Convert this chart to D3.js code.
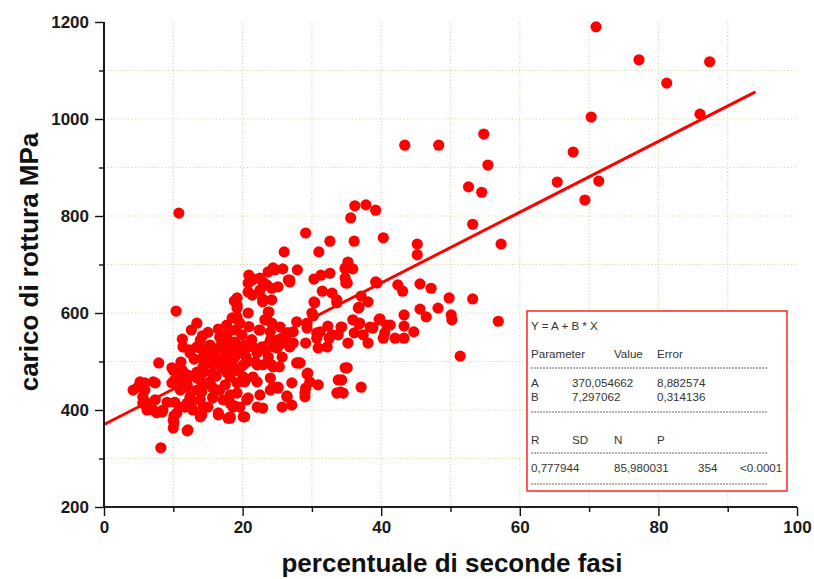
<!DOCTYPE html>
<html>
<head>
<meta charset="utf-8">
<script src="https://cdn.jsdelivr.net/npm/d3@7"></script>
<style>
  html, body { margin: 0; padding: 0; background: #fff; }
  svg { display: block; }
  text { font-family: "Liberation Sans", Arial, sans-serif; }
</style>
</head>
<body>
<svg id="chart" width="814" height="579"></svg>
<script>
// Campioni: [percentuale di seconde fasi, carico di rottura MPa]
const campioni = [
  [71.0,1190],[77.2,1122],[87.4,1118],[81.2,1074],[86.0,1010],[70.3,1004],[54.8,969],[43.4,946],[48.3,946],
  [67.7,932],[55.4,905],[52.6,860],[54.5,849],[65.4,870],[71.4,872],[69.4,833],[53.2,783],[57.3,742],
  [45.2,742],[45.2,720],[10.8,806],
  [45.6,660],[47.2,651],[49.8,631],[53.2,629],[48.2,610],[45.6,608],[46.5,592],[50.1,596],[50.2,586],
  [56.9,583],[51.4,511],[43.3,596],[43.3,573],[44.7,561],[42.4,658],[43.1,645],[39.4,662],[39.7,586],
  [41.3,575],[40.8,575],[40.5,559],[40.3,548],[42.0,548],[43.3,548],[38.1,538],[38.8,569],[37.4,555],
  [36.1,559],[36.9,579],[35.9,586],[36.7,610],[38.1,623],[37.1,635],[35.2,538],[34.3,571],[35.1,662],
  [39.2,664],[35.1,487],[37.1,447],[34.3,462],[34.5,435],[38.4,571],
  [36.2,821],[37.8,823],[39.2,812],[35.6,796],[29.1,765],[32.6,748],[36.1,748],[40.3,755],[31.0,726],
  [35.2,705],[34.8,691],[35.9,691],[34.8,672],[34.9,662],[27.9,689],[26.8,668],[30.3,670],[31.3,678],
  [32.6,682],[31.5,645],[32.9,641],[33.6,627],[30.3,623],[36.8,612],[39.8,588],[36.8,577],[34.8,693],
  [30.2,594],[29.3,579],[34.2,571],[30.7,559],[32.9,555],[26.4,559],[27.3,538],[28.3,497],[29.4,476],
  [34.1,437],[29.0,435],
  [26.0,726],[20.9,678],[24.7,689],[25.8,691],[23.7,685],[26.6,668],[22.5,672],[21.4,668],[23.5,658],
  [25.1,654],[22.5,647],[20.8,643],[19.2,631],[18.8,625],[22.9,629],[24.2,627],[10.4,604],
  [7.9,497],[8.2,322],[12.0,357],[10.1,373],[10.1,388],[13.4,579],[12.6,565],[11.3,546],[16.5,567],
  [17.7,575],[18.5,590],[21.5,670],[24.4,693],[26.8,664],[22.9,664],[24.2,651],[22.9,623],[23.7,602],
  [23.5,586],[22.4,565],[19.6,579],[19.9,555],[19.2,616],[21.4,637],[20.8,662],[26.8,530],[25.0,528],
  [27.3,561],[26.1,548],[24.0,544],[27.8,497],[22.1,493],[24.0,466],[27.1,456],[25.1,447],[26.4,429],
  [20.8,425],[22.9,404],[20.1,386],[18.2,386],[16.5,394],[16.3,441],[14.1,447],[13.9,386],[18.2,414],
  [4.9,447],[4.2,441],[5.9,456],[7.4,456],[5.6,414],[6.2,400],[7.6,394],[8.5,400],[11.0,406],
  [12.0,414],[12.4,427],[10.2,462],[11.3,478],[9.8,456],[11.1,499],[9.8,487],[12.4,524],[13.4,530],
  [14.3,509],[15.3,497],[16.0,524],[17.0,503],[18.6,503],[17.7,478],[14.3,478],[13.4,466],[15.3,458],
  [12.0,447],[20.6,499],[22.1,518],[19.9,524],[18.5,524],[18.9,540],[17.3,534],[15.3,534],[13.9,544],
  [21.5,530],[22.8,530],[18.2,431],[19.6,406],[15.7,425],[14.3,406],[12.8,400],[10.5,394],[9.1,416],
  [21.5,468],[20.1,468],[19.2,456],[22.1,406],[25.7,406],[27.1,410],[22.5,431],[24.0,441],[24.4,489],
  [25.7,509],[23.7,509],[24.0,561],[25.4,571],
  [10.0,379],[10.0,363],[12.1,359],[5.2,458],[5.9,441],[7.1,458],[5.6,427],[6.2,414],[7.1,400],
  [8.4,396],[7.4,421],[14.3,489],[10.7,462],[11.0,441],[12.0,468],[10.0,482],[10.2,416],[11.7,406],
  [12.7,416],[13.9,421],[14.1,390],[16.5,390],[17.9,383],[15.0,406],[15.7,427],[17.2,421],[16.7,441],
  [18.6,406],[13.4,441],[13.9,462],[15.6,447],[17.5,452],[18.2,468],[15.6,476],[13.4,478],[12.1,472],
  [11.4,530],[12.4,518],[13.9,528],[15.0,513],[16.7,530],[18.2,538],[16.7,550],[19.2,592],[16.7,493],
  [18.2,497],[14.3,503],[11.3,482],[12.0,452],[14.1,437],
  [20.8,600],[19.2,610],[23.8,602],[23.2,586],[24.2,579],[22.5,565],[30.4,621],[30.0,600],[33.6,621],
  [32.3,573],[31.2,561],[30.7,548],[32.5,548],[33.8,555],[29.1,538],[30.9,528],[32.2,530],[27.8,582],
  [29.3,569],[26.6,559],[27.1,538],[25.8,538],[25.1,544],[24.4,530],[23.2,524],[20.3,534],[19.2,524],
  [21.8,499],[22.9,493],[24.2,493],[25.3,489],[28.1,497],[20.1,493],[18.6,503],[22.1,458],[24.4,447],
  [25.1,445],[29.3,474],[29.7,458],[30.9,452],[29.1,445],[29.0,427],[26.4,427],[33.8,462],[33.6,435],
  [34.8,487],[20.3,458],[19.2,435],[20.6,421],[18.9,408],[20.3,386],[18.2,383],
  [16.0,510],[17.5,515],[19.0,512],[14.8,520],[13.0,505],[17.0,488],[19.5,480],[16.2,470],[18.9,485],
  [20.5,510],[21.3,545],[17.8,555],[15.0,560],[14.2,553],[19.0,565],[20.9,572]
];

// Retta di regressione Y = A + B * X
const paramA = 370.054662;
const paramB = 7.297062;
const rettaX = [0, 94];

// Assi
const xMajor = [0, 20, 40, 60, 80, 100];
const xMinor = [10, 30, 50, 70, 90];
const yMajor = [200, 400, 600, 800, 1000, 1200];
const yMinor = [300, 500, 700, 900, 1100];

// Riquadro dei risultati del fit
const righeTesto = [
  { riga: 0, cols: ["Y = A + B * X"] },
  { riga: 1, cols: ["Parameter", "", "Value", "Error"] },
  { riga: 3, cols: ["A", "370,054662", "", "8,882574"] },
  { riga: 4, cols: ["B", "7,297062", "", "0,314136"] },
  { riga: 6, cols: ["R", "SD", "N", "P"] },
  { riga: 8, cols: ["0,777944", "", "85,980031", "", "354", "<0.0001"] }
];
const righeTratteggio = [2, 5, 7, 9];

const svg = d3.select("#chart");
const m = { left: 104, right: 797, top: 22, bottom: 507 };

const x = d3.scaleLinear().domain([0, 100]).range([m.left, m.right]);
const y = d3.scaleLinear().domain([200, 1200]).range([m.bottom, m.top]);

// Griglia punteggiata
const grid = svg.append("g").attr("stroke", "#d6dba6").attr("stroke-width", 1.2)
  .attr("stroke-dasharray", "1.2,2.2");
[...xMajor, ...xMinor].filter(v => v > 0 && v < 100).forEach(v => {
  grid.append("line").attr("x1", x(v)).attr("x2", x(v)).attr("y1", m.top).attr("y2", m.bottom);
});
[...yMajor, ...yMinor].filter(v => v > 200 && v < 1200).forEach(v => {
  grid.append("line").attr("x1", m.left).attr("x2", m.right).attr("y1", y(v)).attr("y2", y(v));
});

// Punti
svg.append("g").selectAll("circle").data(campioni).join("circle")
  .attr("cx", d => x(d[0])).attr("cy", d => y(d[1])).attr("r", 5.6)
  .attr("fill", "#ff0000");

// Retta di regressione
svg.append("line")
  .attr("x1", x(rettaX[0])).attr("y1", y(paramA + paramB * rettaX[0]))
  .attr("x2", x(rettaX[1])).attr("y2", y(paramA + paramB * rettaX[1]))
  .attr("stroke", "#ff0000").attr("stroke-width", 3);

// Asse X
const gx = svg.append("g").attr("transform", `translate(0,${m.bottom})`)
  .call(d3.axisBottom(x).tickValues(xMajor).tickSize(9).tickPadding(5).tickFormat(d3.format("d")));
gx.append("g").call(d3.axisBottom(x).tickValues(xMinor).tickSize(5).tickFormat(""));
// Asse Y
const gy = svg.append("g").attr("transform", `translate(${m.left},0)`)
  .call(d3.axisLeft(y).tickValues(yMajor).tickSize(9).tickPadding(6).tickFormat(d3.format("d")));
gy.append("g").call(d3.axisLeft(y).tickValues(yMinor).tickSize(5).tickFormat(""));

[gx, gy].forEach(g => {
  g.selectAll(".domain").attr("stroke", "#111").attr("stroke-width", 1.6);
  g.selectAll("line").attr("stroke", "#111").attr("stroke-width", 1.4);
  g.selectAll("text").attr("font-family", "'Liberation Sans', Arial, sans-serif")
    .attr("font-weight", "bold").attr("font-size", 17).attr("fill", "#1a1a1a");
});
gx.selectAll(".domain").attr("d", `M${m.left},0H${m.right}`);
gy.selectAll(".domain").attr("d", `M0,${m.bottom}V${m.top}`);

// Titoli degli assi
svg.append("text").attr("x", 452).attr("y", 572).attr("text-anchor", "middle")
  .attr("font-weight", "bold").attr("font-size", 26).attr("fill", "#111")
  .text("percentuale di seconde fasi");
svg.append("text").attr("transform", "translate(38,262) rotate(-90)").attr("text-anchor", "middle")
  .attr("font-weight", "bold").attr("font-size", 26).attr("fill", "#111")
  .text("carico di rottura MPa");

// Riquadro risultati
const box = { x: 527, y: 311, w: 260, h: 180 };
const gb = svg.append("g").attr("transform", `translate(${box.x},${box.y})`);
gb.append("rect").attr("width", box.w).attr("height", box.h)
  .attr("fill", "#fff").attr("stroke", "#ff3030").attr("stroke-width", 1.6);
const colX = [4, 45, 87, 130, 171, 213];
const rigaY = [19, 47, 57, 76, 90, 101, 133, 142, 161, 173];
righeTesto.forEach(r => {
  r.cols.forEach((t, i) => {
    if (!t) return;
    gb.append("text").attr("x", colX[i]).attr("y", rigaY[r.riga])
      .attr("font-size", 11.6).attr("fill", "#333").text(t);
  });
});
righeTratteggio.forEach(ri => {
  gb.append("line").attr("x1", 4).attr("x2", 241).attr("y1", rigaY[ri]).attr("y2", rigaY[ri])
    .attr("stroke", "#666").attr("stroke-width", 1).attr("stroke-dasharray", "2,1");
});
</script>
</body>
</html>
